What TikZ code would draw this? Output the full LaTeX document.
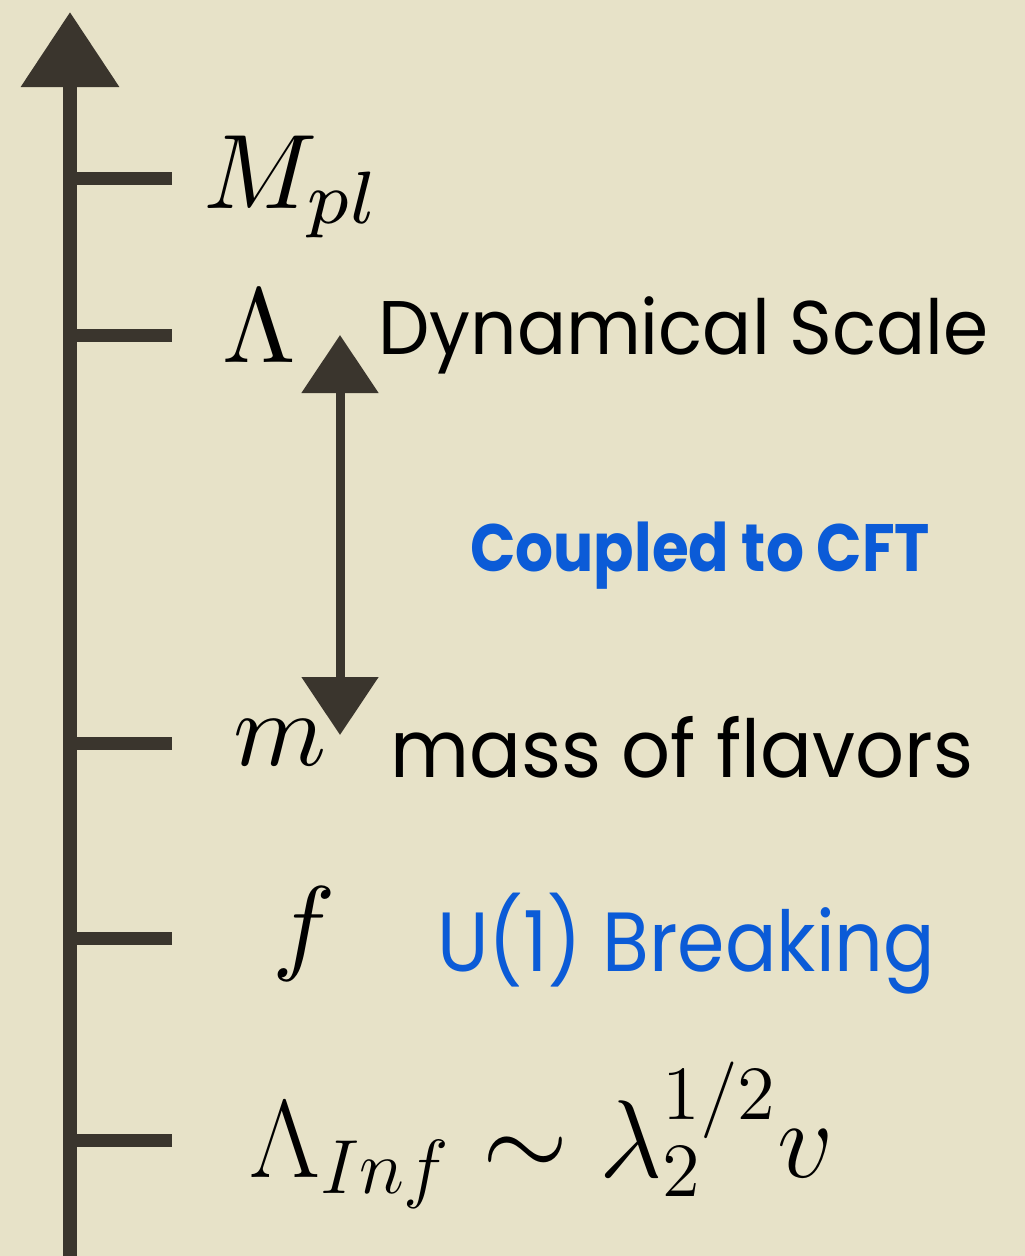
\documentclass[tikz,border=0pt]{standalone}
\usepackage{graphicx}
\usepackage{fontspec}
\newfontfamily\comic{Poppins}
\usetikzlibrary{arrows.meta}
\definecolor{bg}{RGB}{231,226,200}
\definecolor{ink}{RGB}{58,53,45}
\definecolor{cblue}{RGB}{11,91,215}
\newcommand{\hugemath}[1]{\scalebox{10.6}{$#1$}}
\newcommand{\hugemathb}[1]{\scalebox{5.33}{\huge$#1$}}
\newcommand{\fitw}[2]{\resizebox{#1}{\height}{#2}}
\begin{document}
\begin{tikzpicture}[x=1pt,y=-1pt,
  axisline/.style={draw=ink,line width=14pt,-{Triangle[width=95pt,length=75pt]}},
  tickline/.style={draw=ink,line width=13pt},
  dblarrow/.style={draw=ink,line width=9pt,{Triangle[width=75pt,length=58pt]}-{Triangle[width=75pt,length=58pt]}},
  mlab/.style={inner sep=0pt,anchor=base west,text=black},
  tlab/.style={inner sep=0pt,anchor=base west,text=black,font=\comic},
  blab/.style={inner sep=0pt,anchor=base west,text=cblue,font=\comic},
  bblab/.style={inner sep=0pt,anchor=base west,text=cblue,font=\comic\bfseries}]
\fill[bg] (0,0) rectangle (1025,1256);
\useasboundingbox (0,0) rectangle (1025,1256);
% axis
\coordinate (axbot) at (70,1256);
\coordinate (axtop) at (70,12);
\draw[axisline] (axbot) -- (axtop);
% ticks
\foreach \n/\yy in {1/178,2/335,3/743,4/938,5/1140}{
  \coordinate (ts\n) at (70,\yy);
  \coordinate (te\n) at (172,\yy);
  \draw[tickline] (ts\n) -- (te\n);
}
% math labels
\node[mlab] (Mpl) at (203,208) {\hugemath{M_{pl}}};
\node[mlab] (Lam) at (222,362) {\hugemath{\Lambda}};
\node[mlab] (mm) at (233,765) {\hugemath{m}};
\node[mlab] (ff) at (272,960) {\hugemath{f}};
\node[mlab] (LInf) at (249,1177) {\hugemathb{\Lambda_{Inf}\sim\lambda_2^{1/2}v}};
% text labels
\node[tlab] (dyn) at (378,354) {\fontsize{76}{86}\selectfont\fitw{610pt}{Dynamical Scale}};
\node[bblab] (cft) at (470,571) {\fontsize{67}{76}\selectfont\fitw{460pt}{Coupled to CFT}};
\node[tlab] (mass) at (390,777) {\fontsize{80}{90}\selectfont\fitw{583pt}{mass of flavors}};
\node[blab] (u1) at (437,971) {\fontsize{84}{94}\selectfont\fitw{498pt}{U(1) Breaking}};
% double arrow
\coordinate (dtop) at (340,335);
\coordinate (dbot) at (340,735);
\draw[dblarrow] (dbot) -- (dtop);
\end{tikzpicture}
\end{document}
